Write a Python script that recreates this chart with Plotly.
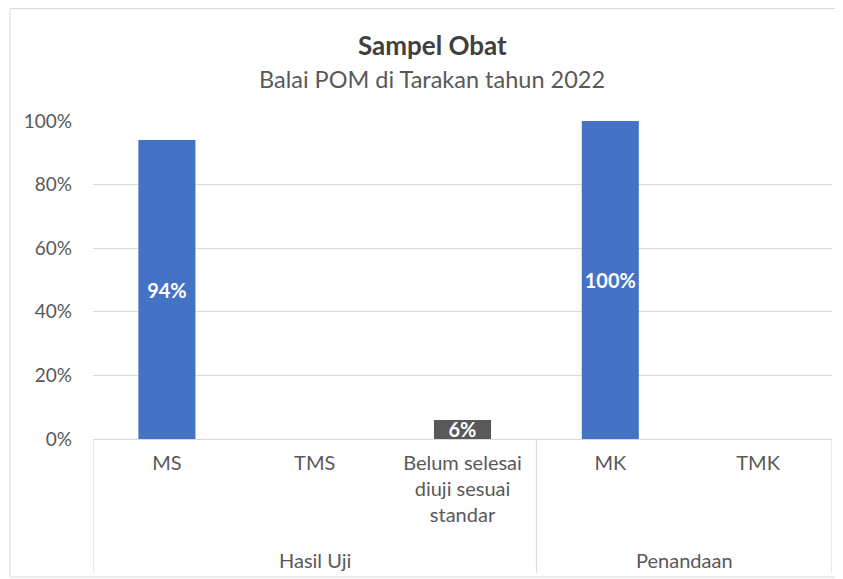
import plotly.graph_objects as go

# data
groups = ["Hasil Uji", "Hasil Uji", "Hasil Uji", "Penandaan", "Penandaan"]
categories = ["MS", "TMS", "Belum selesai<br>diuji sesuai<br>standar", "MK", "TMK"]
values = [94, 0, 6, 100, 0]
bar_colors = ["#4472C4", "#4472C4", "#595959", "#4472C4", "#4472C4"]
y_ticks = [0, 20, 40, 60, 80, 100]

# page body has an 8px margin, so the figure is a bit smaller
W, H = 835, 571
L, R, T, B = 85, 11, 113, 140
FONT = "Lato"

labels = [f"{v}%" if v else "" for v in values]

fig = go.Figure(go.Bar(
    x=categories,
    y=values,
    marker=dict(color=bar_colors, line=dict(width=0)),
    text=labels,
    textposition="inside",
    insidetextanchor="middle",
    textangle=0,
    textfont=dict(family=FONT, size=20, color="white", weight="bold"),
    width=0.386,
    hoverinfo="skip",
))

fig.update_layout(
    width=W, height=H,
    margin=dict(l=L, r=R, t=T, b=B, autoexpand=False),
    paper_bgcolor="white",
    plot_bgcolor="white",
    showlegend=False,
    font=dict(family=FONT, size=19, color="#595959"),
    uniformtext=dict(minsize=19, mode="show"),
)

fig.update_yaxes(
    range=[0, 100],
    tickvals=y_ticks,
    ticktext=[f"{t}%" for t in y_ticks],
    showgrid=True,
    gridcolor="#D9D9D9",
    gridwidth=1,
    zeroline=False,
    showline=False,
    ticks="",
    ticklabelstandoff=20,
    tickfont=dict(family=FONT, size=19, color="#595959"),
)

fig.update_xaxes(
    type="category",
    range=[-0.5, len(categories) - 0.5],
    showline=True,
    linecolor="#D9D9D9",
    linewidth=1,
    showgrid=False,
    ticks="",
    ticklabelstandoff=6,
    tickfont=dict(family=FONT, size=20, color="#595959"),
)

# pixel helpers (figure coordinates -> paper)
px = lambda x: (x - L) / (W - L - R)
py = lambda y: (H - B - y) / (H - T - B)

# title and subtitle
fig.add_annotation(text="<b>Sampel Obat</b>", x=px(424), y=py(37), xref="paper", yref="paper",
                   yanchor="middle", showarrow=False, font=dict(family=FONT, size=26, color="#404040"))
fig.add_annotation(text="Balai POM di Tarakan tahun 2022", x=px(424), y=py(71), xref="paper", yref="paper",
                   yanchor="middle", showarrow=False, font=dict(family=FONT, size=23.5, color="#595959"))

# group labels under the categories
group_names = list(dict.fromkeys(groups))
for g in group_names:
    idx = [i for i, gg in enumerate(groups) if gg == g]
    fig.add_annotation(text=g, x=sum(idx) / len(idx), y=py(552), xref="x", yref="paper",
                       yanchor="middle", showarrow=False, font=dict(family=FONT, size=20, color="#595959"))

# dividers between groups
bounds = [-0.5] + [i + 0.5 for i in range(len(groups) - 1) if groups[i] != groups[i + 1]] + [len(groups) - 0.5]
for b in bounds:
    fig.add_shape(type="line", xref="x", yref="paper", x0=b, x1=b, y0=0, y1=py(565),
                  line=dict(color="#D9D9D9", width=1))

# outer chart border
fig.add_shape(type="rect", xref="paper", yref="paper",
              x0=px(2), x1=px(850), y0=py(569), y1=py(0.5),
              line=dict(color="#D9D9D9", width=1), layer="below")

fig.write_html("out.html")
